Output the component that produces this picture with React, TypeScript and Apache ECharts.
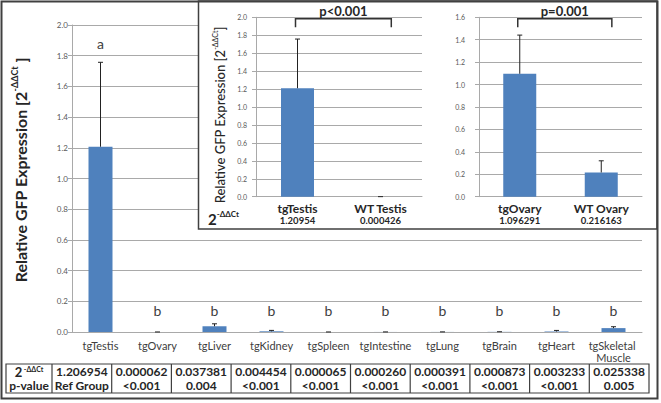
import React, { useEffect, useRef } from "react";
import * as echarts from "echarts";

// ---------- data ----------
const tissues = ["tgTestis", "tgOvary", "tgLiver", "tgKidney", "tgSpleen", "tgIntestine", "tgLung", "tgBrain", "tgHeart", "tgSkeletal Muscle"];
const expression = [1.206954, 0.000062, 0.037381, 0.004454, 0.000065, 0.00026, 0.000391, 0.000873, 0.003233, 0.025338];
const errorUp = [0.55, 0.0002, 0.016, 0.006, 0.0002, 0.0003, 0.0004, 0.0008, 0.007, 0.009];
const letters = ["a", "b", "b", "b", "b", "b", "b", "b", "b", "b"];
const ddctText = ["1.206954", "0.000062", "0.037381", "0.004454", "0.000065", "0.000260", "0.000391", "0.000873", "0.003233", "0.025338"];
const pValueText = ["Ref Group", "<0.001", "0.004", "<0.001", "<0.001", "<0.001", "<0.001", "<0.001", "<0.001", "0.005"];
const rowHeaders = ["2|-ΔΔCt", "p-value"];

const testisCats = ["tgTestis", "WT Testis"];
const testisValues = [1.20954, 0.000426];
const testisErr = [0.548, 0.0002];
const testisValueLabels = ["1.20954", "0.000426"];
const testisP = "p<0.001";

const ovaryCats = ["tgOvary", "WT Ovary"];
const ovaryValues = [1.096291, 0.216163];
const ovaryErr = [0.345, 0.104];
const ovaryValueLabels = ["1.096291", "0.216163"];
const ovaryP = "p=0.001";

const mainMax = 2.0;
const testisMax = 2.0;
const ovaryMax = 1.6;
const tickStep = 0.2;

// ---------- styles ----------
const FONT = 'Lato, "Open Sans", sans-serif';
const BAR = "#4f81bd";
const GRID = "#a9a9a9";
const DARK = "#262626";

function errorSeries(xi: number, values: number[], errs: number[], cap: number, z: number) {
  return {
    type: "custom",
    xAxisIndex: xi,
    yAxisIndex: xi,
    z,
    clip: false,
    data: values.map((v, i) => [i, v, v + errs[i]]),
    renderItem: (params: any, api: any) => {
      const b = api.coord([api.value(0), api.value(1)]);
      const t = api.coord([api.value(0), api.value(2)]);
      return {
        type: "group",
        children: [
          { type: "line", shape: { x1: b[0], y1: b[1], x2: t[0], y2: t[1] }, style: { stroke: "#222", lineWidth: 1 } },
          { type: "line", shape: { x1: t[0] - cap, y1: t[1], x2: t[0] + cap, y2: t[1] }, style: { stroke: "#222", lineWidth: 1 } },
        ],
      };
    },
  };
}

function bracketSeries(xi: number, label: string, z: number) {
  return {
    type: "custom",
    xAxisIndex: xi,
    yAxisIndex: xi,
    z,
    clip: false,
    data: [[0, 1]],
    renderItem: (params: any, api: any) => {
      const cs = params.coordSys;
      const band = api.size([1, 0])[0];
      const l = api.coord([0, 0])[0] - 2;
      const r = api.coord([1, 0])[0] + band * 0.13;
      const top = cs.y + 1.5;
      const bot = top + 8.5;
      const st = { stroke: "#333", lineWidth: 1.5, fill: null };
      return {
        type: "group",
        children: [
          { type: "polyline", shape: { points: [[l, bot], [l, top], [r, top], [r, bot]] }, style: st },
          {
            type: "text",
            x: (l + r) / 2,
            y: top - 8,
            style: { text: label, fill: DARK, font: `bold 13px ${FONT}`, align: "center", verticalAlign: "middle" },
          },
        ],
      };
    },
  };
}

function letterSeries(z: number) {
  return {
    type: "custom",
    xAxisIndex: 0,
    yAxisIndex: 0,
    z,
    data: letters.map((l, i) => {
      const top = expression[i] + errorUp[i];
      return [i, top > 0.5 ? top + 0.12 : 0.14];
    }),
    renderItem: (params: any, api: any) => {
      const p = api.coord([api.value(0), api.value(1)]);
      return {
        type: "text",
        x: p[0],
        y: p[1],
        style: { text: letters[params.dataIndex], fill: "#404040", font: `14px ${FONT}`, align: "center", verticalAlign: "middle" },
      };
    },
  };
}

function valueAxis(gi: number, max: number, labelSize: number, margin: number, z: number) {
  return {
    type: "value",
    gridIndex: gi,
    min: 0,
    max,
    interval: tickStep,
    z,
    axisLine: { show: true, lineStyle: { color: GRID, width: 1 } },
    axisTick: { show: true, length: 4, lineStyle: { color: GRID } },
    axisLabel: { fontSize: labelSize, color: "#595959", fontFamily: FONT, margin, formatter: (v: number) => v.toFixed(1) },
    splitLine: { show: true, lineStyle: { color: GRID, width: 1 } },
  };
}

function insetXAxis(gi: number, cats: string[], vals: string[], z: number) {
  return {
    type: "category",
    gridIndex: gi,
    data: cats,
    z,
    axisLine: { lineStyle: { color: GRID } },
    axisTick: { show: false },
    axisLabel: {
      interval: 0,
      margin: 5,
      formatter: (v: string, i: number) => `{n|${v}}\n{v|${vals[i]}}`,
      rich: {
        n: { fontSize: 12, fontWeight: "bold", color: DARK, fontFamily: FONT, lineHeight: 13 },
        v: { fontSize: 9.5, fontWeight: "bold", color: DARK, fontFamily: FONT, lineHeight: 12 },
      },
    },
  };
}

function supText(x: number, y: number, base: number, sup: number, weight: string, text: string, align: string, rotation: number, z: number, tail = "") {
  return {
    type: "text",
    x,
    y,
    rotation,
    z,
    style: {
      text: `{a|${text}}{s|-ΔΔCt}` + (tail ? `{a|${tail}}` : ""),
      align,
      verticalAlign: "middle",
      rich: {
        a: { fontSize: base, fontWeight: weight, fontFamily: FONT, fill: DARK, lineHeight: base + 4 },
        s: { fontSize: sup, fontWeight: weight, fontFamily: FONT, fill: DARK, lineHeight: sup + 2, verticalAlign: "top" },
      },
    },
  };
}

function tableElements(z: number) {
  const left = 6, firstW = 46, right = 649, top = 364, bottom = 393;
  const colW = (right - left - firstW) / ddctText.length;
  const rowY = [371.5, 385.5];
  const cellFont = `bold 12px ${FONT}`;
  const els: any[] = [];
  els.push({ type: "rect", z, shape: { x: left, y: top, width: right - left, height: bottom - top }, style: { fill: "#fff", stroke: "#404040", lineWidth: 1.2 } });
  for (let i = 0; i <= ddctText.length - 1; i++) {
    const x = left + firstW + i * colW;
    els.push({ type: "line", z: z + 1, shape: { x1: x, y1: top, x2: x, y2: bottom }, style: { stroke: "#404040", lineWidth: 1.2 } });
  }
  const [h1, h1s] = rowHeaders[0].split("|");
  els.push({
    type: "text",
    x: left + firstW / 2,
    y: rowY[0],
    z: z + 2,
    style: {
      text: `{a|${h1}}{s| ${h1s}}`,
      align: "center",
      verticalAlign: "middle",
      rich: {
        a: { fontSize: 13, fontWeight: "bold", fontFamily: FONT, fill: DARK, lineHeight: 13 },
        s: { fontSize: 7, fontWeight: "bold", fontFamily: FONT, fill: DARK, lineHeight: 8, verticalAlign: "top" },
      },
    },
  });
  els.push({ type: "text", x: left + firstW / 2, y: rowY[1], z: z + 2, style: { text: rowHeaders[1], fill: DARK, font: cellFont, align: "center", verticalAlign: "middle" } });
  ddctText.forEach((t, i) => {
    const cx = left + firstW + (i + 0.5) * colW;
    els.push({ type: "text", x: cx, y: rowY[0], z: z + 2, style: { text: t, fill: DARK, font: cellFont, align: "center", verticalAlign: "middle" } });
    els.push({ type: "text", x: cx, y: rowY[1], z: z + 2, style: { text: pValueText[i], fill: DARK, font: cellFont, align: "center", verticalAlign: "middle" } });
  });
  return els;
}

export default function App() {
  const ref = useRef<HTMLDivElement>(null);
  useEffect(() => {
    if (!ref.current) return;
    const chart = echarts.init(ref.current, undefined, { renderer: "svg" });
    const option: any = {
      animation: false,
      backgroundColor: "#fff",
      grid: [
        { left: 72, top: 25, width: 570, height: 307 },
        { left: 256, top: 17.3, width: 166, height: 179.4 },
        { left: 479, top: 17.3, width: 163, height: 179.4 },
      ],
      xAxis: [
        {
          type: "category",
          gridIndex: 0,
          data: tissues,
          z: 0,
          axisLine: { lineStyle: { color: GRID } },
          axisTick: { show: false },
          axisLabel: { interval: 0, fontSize: 11, color: "#404040", fontFamily: FONT, margin: 7, width: 56, overflow: "break", lineHeight: 12 },
        },
        insetXAxis(1, testisCats, testisValueLabels, 10),
        insetXAxis(2, ovaryCats, ovaryValueLabels, 10),
      ],
      yAxis: [
        valueAxis(0, mainMax, 8, 4, 0),
        valueAxis(1, testisMax, 7, 9, 10),
        valueAxis(2, ovaryMax, 7, 14, 10),
      ],
      series: [
        { type: "bar", xAxisIndex: 0, yAxisIndex: 0, data: expression, barWidth: 24, itemStyle: { color: BAR }, z: 2 },
        errorSeries(0, expression, errorUp, 2.5, 3),
        letterSeries(3),
        { type: "bar", xAxisIndex: 1, yAxisIndex: 1, data: testisValues, barWidth: 33, itemStyle: { color: BAR }, z: 11 },
        errorSeries(1, testisValues, testisErr, 2.5, 12),
        bracketSeries(1, testisP, 12),
        { type: "bar", xAxisIndex: 2, yAxisIndex: 2, data: ovaryValues, barWidth: 33, itemStyle: { color: BAR }, z: 11 },
        errorSeries(2, ovaryValues, ovaryErr, 2.5, 12),
        bracketSeries(2, ovaryP, 12),
      ],
      graphic: [
        { type: "rect", z: 5, shape: { x: 198.5, y: 1, width: 458.5, height: 228 }, style: { fill: "#fff", stroke: "#404040", lineWidth: 1.5 } },
        { type: "rect", z: 30, shape: { x: 1.5, y: 1.5, width: 656, height: 397 }, style: { fill: null, stroke: "#404040", lineWidth: 2 } },
        supText(20, 170, 16, 9, "bold", "Relative GFP Expression [2", "center", Math.PI / 2, 20, " ]"),
        supText(220, 115, 13, 7, "500", "Relative GFP Expression [2", "center", Math.PI / 2, 20, "]"),
        supText(208, 219, 15, 8, "bold", "2", "left", 0, 20),
        ...tableElements(20),
      ],
    };
    chart.setOption(option);
    return () => chart.dispose();
  }, []);
  return <div ref={ref} style={{ position: "absolute", left: 0, top: 0, width: 661, height: 403 }} />;
}
